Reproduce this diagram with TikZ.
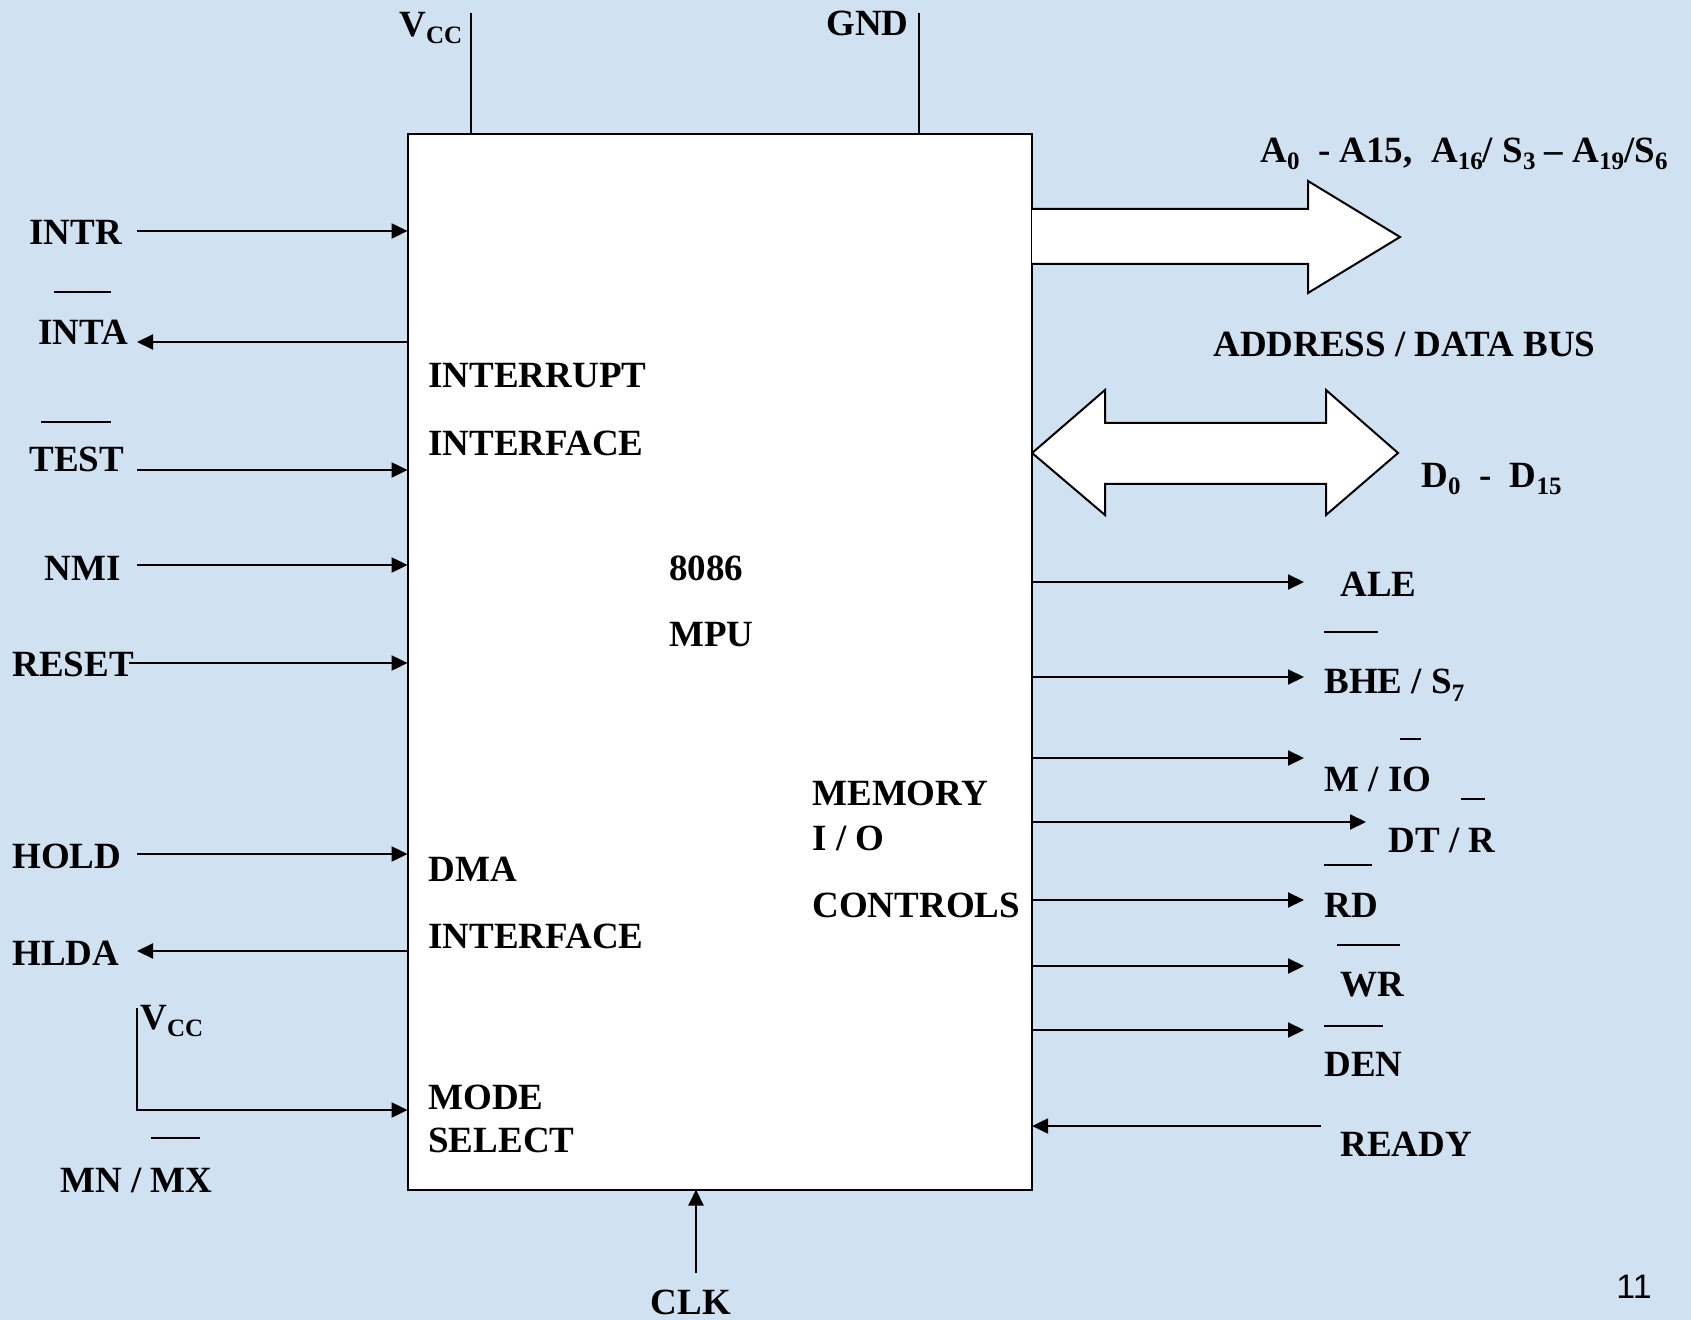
\documentclass[tikz,border=0pt]{standalone}
\usepackage{fontspec}
\setmainfont{Liberation Serif}
\newfontfamily\pagefont{Liberation Sans}
\usepackage{xcolor}
\usepackage{tikz}
\usetikzlibrary{positioning,arrows.meta}
\definecolor{slidebg}{RGB}{208,225,242}
\newcommand{\lowidx}[1]{\raisebox{-0.45ex}{\fontsize{12.5}{13}\selectfont #1}}

\begin{document}
\begin{tikzpicture}[x=0.5pt, y=-0.5pt,
  sig/.style={line width=1pt},
  arr/.style={sig, -{Triangle[length=8pt,width=7.5pt]}},
  lbl/.style={font=\fontsize{18.5}{20}\selectfont\bfseries, inner sep=0pt, anchor=west},
  bar/.style={line width=0.8pt},
  bus/.style={draw, line width=1pt, fill=white, line join=miter},
]
\fill[slidebg] (0,0) rectangle (1691,1320);

% the processor
\node[draw, line width=1pt, fill=white, outer sep=0pt, anchor=north west,
      minimum width=312.25pt, minimum height=527.9pt] (mpu) at (407.6,133.7) {};

% supply pins
\node[lbl] (vcctop) at (399,28) {V\lowidx{CC}};
\node[lbl] (gnd) at (826,23) {GND};
\coordinate (vcc-pin) at (471,13);
\coordinate (gnd-pin) at (919,13);
\draw[sig] (vcc-pin) -- (vcc-pin |- mpu.north);
\draw[sig] (gnd-pin) -- (gnd-pin |- mpu.north);

% left side signals
\node[lbl] (intr) at (29,232) {INTR};
\node[lbl] (inta) at (38,332) {INTA};
\node[lbl] (test) at (29,459) {TEST};
\node[lbl] (nmi) at (44,568) {NMI};
\node[lbl] (reset) at (12,664) {RESET};
\node[lbl] (hold) at (12,856) {HOLD};
\node[lbl] (hlda) at (12,953) {HLDA};
\node[lbl] (vccmode) at (140,1021) {V\lowidx{CC}};
\node[lbl] (mnmx) at (60,1180) {MN / MX};

\coordinate (intr-in) at (137,231);
\coordinate (inta-out) at (137,342);
\coordinate (test-in) at (137,470);
\coordinate (nmi-in) at (137,565);
\coordinate (reset-in) at (129,663);
\coordinate (hold-in) at (137,854);
\coordinate (hlda-out) at (137,951);
\coordinate (mode-vcc) at (137,1008);
\coordinate (mode-in) at (137,1110);

\draw[arr] (intr-in) -- (intr-in -| mpu.west);
\draw[arr] (inta-out -| mpu.west) -- (inta-out);
\draw[arr] (test-in) -- (test-in -| mpu.west);
\draw[arr] (nmi-in) -- (nmi-in -| mpu.west);
\draw[arr] (reset-in) -- (reset-in -| mpu.west);
\draw[arr] (hold-in) -- (hold-in -| mpu.west);
\draw[arr] (hlda-out -| mpu.west) -- (hlda-out);
\draw[arr] (mode-vcc) -- (mode-in) -- (mode-in -| mpu.west);

% overbars on the left
\draw[bar] (54,292) -- (111,292);
\draw[bar] (41,422) -- (111,422);
\draw[bar] (151,1138) -- (200,1138);

% inside the box
\node[lbl] (irq1) at (428,376) {INTERRUPT};
\node[lbl] (irq2) at (428,443) {INTERFACE};
\node[lbl] (cpu1) at (669,568) {8086};
\node[lbl] (cpu2) at (669,635) {MPU};
\node[lbl] (mem1) at (812,793) {MEMORY};
\node[lbl] (mem2) at (812,838) {I / O};
\node[lbl] (mem3) at (812,905) {CONTROLS};
\node[lbl] (dma1) at (428,869) {DMA};
\node[lbl] (dma2) at (428,936) {INTERFACE};
\node[lbl] (mode1) at (428,1097) {MODE};
\node[lbl] (mode2) at (428,1140) {SELECT};

% buses
\draw[bus] (mpu.east |- 0,209) -- (1308,209) -- (1308,181) -- (1400,237)
  -- (1308,293) -- (1308,264) -- (mpu.east |- 0,264);
\draw[bus] (mpu.east |- 0,453) -- (1105,390) -- (1105,423) -- (1326,423)
  -- (1326,390) -- (1398,453) -- (1326,515) -- (1326,484) -- (1105,484)
  -- (1105,515) -- cycle;
\node[lbl] (addr) at (1260,154) {A\lowidx{0}\ \ - A15,\ \ A\lowidx{16}/ S\lowidx{3} -- A\lowidx{19}/S\lowidx{6}};
\node[lbl] (adbus) at (1213,344) {ADDRESS / DATA BUS};
\node[lbl] (data) at (1421,479) {D\lowidx{0}\ \ -\ \ D\lowidx{15}};

% right side signals
\node[lbl] (ale) at (1340,584) {ALE};
\node[lbl] (bhe) at (1324,685) {BHE / S\lowidx{7}};
\node[lbl] (mio) at (1324,779) {M / IO};
\node[lbl] (dtr) at (1388,840) {DT / R};
\node[lbl] (rd) at (1324,905) {RD};
\node[lbl] (wr) at (1340,985) {WR};
\node[lbl] (den) at (1324,1064) {DEN};
\node[lbl] (ready) at (1340,1144) {READY};

\coordinate (ale-out) at (1304,582);
\coordinate (bhe-out) at (1304,677);
\coordinate (mio-out) at (1304,758);
\coordinate (dtr-out) at (1366,822);
\coordinate (rd-out) at (1304,900);
\coordinate (wr-out) at (1304,966);
\coordinate (den-out) at (1304,1030);
\coordinate (ready-in) at (1321,1126);

\draw[arr] (ale-out -| mpu.east) -- (ale-out);
\draw[arr] (bhe-out -| mpu.east) -- (bhe-out);
\draw[arr] (mio-out -| mpu.east) -- (mio-out);
\draw[arr] (dtr-out -| mpu.east) -- (dtr-out);
\draw[arr] (rd-out -| mpu.east) -- (rd-out);
\draw[arr] (wr-out -| mpu.east) -- (wr-out);
\draw[arr] (den-out -| mpu.east) -- (den-out);
\draw[arr] (ready-in) -- (ready-in -| mpu.east);

% overbars on the right
\draw[bar] (1324,632) -- (1378,632);
\draw[bar] (1400,739) -- (1421,739);
\draw[bar] (1461,799) -- (1485,799);
\draw[bar] (1324,865) -- (1372,865);
\draw[bar] (1337,945) -- (1400,945);
\draw[bar] (1324,1026) -- (1383,1026);

% clock
\node[lbl, anchor=center] (clk) at (691,1302) {CLK};
\coordinate (clk-in) at (696,1273);
\draw[arr] (clk-in) -- (clk-in |- mpu.south);

\node[font=\pagefont\fontsize{17}{19}\selectfont, inner sep=0pt] (page) at (1634,1287) {11};
\end{tikzpicture}
\end{document}
